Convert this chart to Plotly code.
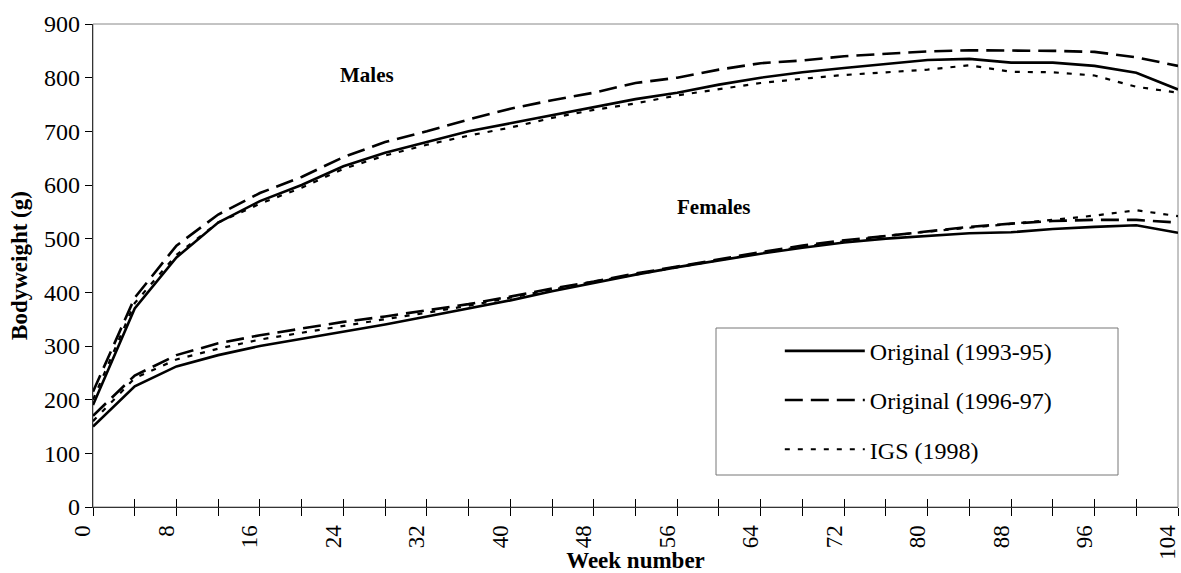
import plotly.graph_objects as go

weeks = list(range(0, 105, 4))

males_1993 = [190, 370, 465, 530, 570, 600, 635, 660, 680, 700, 715, 730, 745, 760, 772, 787,
              800, 810, 818, 825, 833, 835, 828, 828, 822, 809, 778]
males_1996 = [215, 390, 487, 545, 585, 615, 652, 680, 700, 722, 742, 758, 772, 790, 800, 815,
              827, 832, 840, 844, 849, 851, 851, 850, 848, 838, 822]
males_igs = [200, 380, 470, 530, 565, 595, 630, 655, 675, 692, 707, 725, 740, 752, 767, 778,
             790, 798, 805, 810, 815, 823, 811, 810, 804, 783, 772]

females_1993 = [150, 225, 262, 283, 300, 313, 327, 340, 355, 370, 385, 402, 418, 433, 447, 460,
                472, 483, 493, 500, 505, 510, 512, 518, 522, 525, 511]
females_1996 = [170, 245, 283, 305, 320, 332, 345, 355, 367, 378, 392, 407, 420, 435, 448, 462,
                475, 487, 497, 505, 513, 522, 528, 533, 535, 535, 530]
females_igs = [160, 240, 275, 295, 312, 325, 337, 350, 362, 375, 390, 405, 420, 433, 447, 460,
               473, 485, 495, 505, 513, 520, 528, 535, 543, 553, 542]

series_names = ["Original (1993-95)", "Original (1996-97)", "IGS (1998)"]
y_ticks = list(range(0, 901, 100))
x_tickvals = list(range(0, 105, 4))
x_ticktext = [str(w) if w % 8 == 0 else "" for w in x_tickvals]

FONT = "Liberation Serif"
styles = [
    dict(color="black", width=2.6, dash="solid"),
    dict(color="black", width=2.6, dash="18px,8px"),
    dict(color="black", width=2.2, dash="5px,8px"),
]

fig = go.Figure()
male_data = [males_1993, males_1996, males_igs]
female_data = [females_1993, females_1996, females_igs]
for i, name in enumerate(series_names):
    fig.add_trace(go.Scatter(x=weeks, y=male_data[i], mode="lines", name=name,
                             legendgroup=name, showlegend=True, line=styles[i]))
    fig.add_trace(go.Scatter(x=weeks, y=female_data[i], mode="lines", name=name,
                             legendgroup=name, showlegend=False, line=styles[i]))

fig.add_trace(go.Scatter(x=[0, 104], y=[None, None], xaxis="x2", showlegend=False,
                         hoverinfo="skip"))

fig.update_layout(
    width=1181, height=573,
    margin=dict(l=93, r=3, t=24, b=66),
    paper_bgcolor="white", plot_bgcolor="white",
    font=dict(family=FONT, size=24, color="black"),
    showlegend=True,
    legend=dict(x=0.633, y=0.369, xanchor="left", yanchor="top",
                bgcolor="rgba(0,0,0,0)", borderwidth=0,
                font=dict(family=FONT, size=24, color="black"),
                itemwidth=80, tracegroupgap=15, traceorder="grouped"),
    xaxis=dict(range=[0, 104], tickvals=x_tickvals, ticktext=x_ticktext,
               tickangle=-90, ticks="outside", ticklen=8, tickwidth=1.2,
               tickcolor="black", showline=True, linecolor="#333", linewidth=1.2,
               showgrid=False, zeroline=False, ticklabeloverflow="allow",
               ticklabelshift=-10, automargin=False,
               tickfont=dict(family=FONT, size=23),
               title=dict(text="<b>Week number</b>", font=dict(family=FONT, size=23),
                          standoff=2)),
    xaxis2=dict(range=[0, 104], overlaying="x", anchor="y", side="bottom",
                tickvals=x_tickvals, showticklabels=False, ticks="inside",
                ticklen=8, tickwidth=1.2, tickcolor="black", showgrid=False,
                zeroline=False, showline=False, automargin=False),
    yaxis=dict(range=[0, 900], tickvals=y_ticks, ticks="outside", ticklen=7,
               tickwidth=1.2, tickcolor="black", showline=True, linecolor="#333",
               linewidth=1.2, showgrid=False, zeroline=False, automargin=False,
               tickfont=dict(family=FONT, size=24),
               title=dict(text="<b>Bodyweight (g)</b>", font=dict(family=FONT, size=23),
                          standoff=10)),
    shapes=[
        dict(type="rect", xref="paper", yref="paper", x0=0, x1=1, y0=0, y1=1,
             line=dict(color="#888", width=1), layer="below"),
        dict(type="rect", xref="paper", yref="paper",
             x0=(716 - 93) / 1085, x1=(1118 - 93) / 1085,
             y0=(507 - 475) / 483, y1=(507 - 328) / 483,
             line=dict(color="#777", width=1), fillcolor="rgba(0,0,0,0)"),
    ],
    annotations=[
        dict(x=26.3, y=805, xref="x", yref="y", text="<b>Males</b>", showarrow=False,
             font=dict(family=FONT, size=21)),
        dict(x=59.5, y=559, xref="x", yref="y", text="<b>Females</b>", showarrow=False,
             font=dict(family=FONT, size=21)),
    ],
)

fig.write_html("out.html")
